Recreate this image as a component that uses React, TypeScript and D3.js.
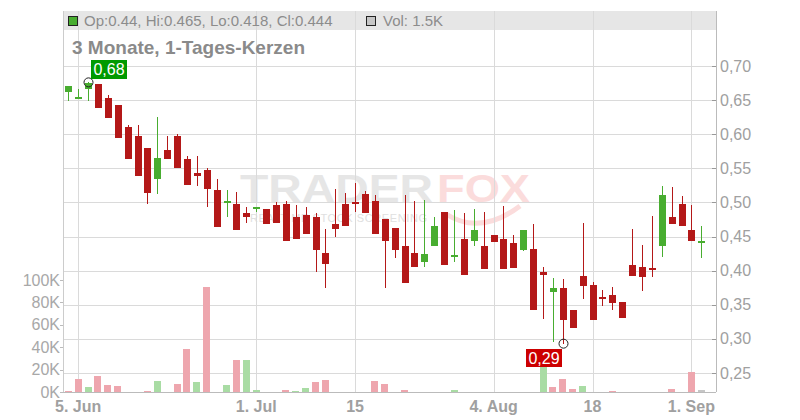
import React from "react";
import * as d3 from "d3";

// Daily candles (trading-day index 0..64, 4 Jun – 2 Sep)
const opens = [0.662,0.653,0.667,0.674,0.653,0.643,0.610,0.598,0.580,0.534,0.577,0.5975,0.564,0.543,0.548,0.5185,0.500,0.498,0.485,0.492,0.4906,0.4965,0.498,0.478,0.4818,0.478,0.4262,0.4687,0.498,0.5009,0.5126,0.5023,0.476,0.4628,0.4365,0.4262,0.412,0.4355,0.4853,0.4214,0.4467,0.4442,0.4365,0.4526,0.4467,0.4409,0.4296,0.432,0.398,0.368,0.375,0.3427,0.3926,0.3794,0.3618,0.3647,0.3545,0.4086,0.4057,0.4042,0.4355,0.4789,0.498,0.4599,0.440];
const highs = [0.671,0.667,0.676,0.674,0.658,0.643,0.614,0.614,0.580,0.625,0.5975,0.600,0.568,0.568,0.551,0.5346,0.5185,0.5156,0.4937,0.493,0.4906,0.5013,0.5023,0.4965,0.4937,0.4849,0.4604,0.5196,0.514,0.5282,0.5175,0.5116,0.476,0.4628,0.5111,0.5023,0.5038,0.4789,0.4867,0.4892,0.4838,0.4906,0.4867,0.4526,0.495,0.4526,0.4599,0.4687,0.4053,0.3896,0.3882,0.3427,0.4706,0.3838,0.372,0.3764,0.3545,0.4604,0.4379,0.4804,0.5243,0.5228,0.5097,0.4965,0.465];
const lows = [0.648,0.653,0.649,0.639,0.624,0.594,0.564,0.539,0.4975,0.513,0.564,0.550,0.525,0.524,0.494,0.4633,0.479,0.459,0.4706,0.4853,0.469,0.4706,0.4428,0.447,0.4531,0.3974,0.3742,0.4487,0.4648,0.4867,0.4838,0.4531,0.3745,0.4179,0.3813,0.4047,0.4047,0.4355,0.4076,0.412,0.393,0.4355,0.4018,0.4413,0.4018,0.4032,0.4282,0.3417,0.3286,0.2949,0.293,0.3154,0.3578,0.3271,0.3476,0.3417,0.330,0.3915,0.3696,0.390,0.4194,0.4677,0.4648,0.444,0.418];
const closes = [0.671,0.654,0.675,0.639,0.624,0.594,0.564,0.539,0.5145,0.565,0.564,0.550,0.525,0.539,0.5195,0.4633,0.501,0.459,0.478,0.4926,0.469,0.4706,0.4428,0.447,0.4531,0.4296,0.4091,0.4618,0.4648,0.498,0.4838,0.4531,0.4428,0.431,0.3813,0.4047,0.4247,0.4657,0.4076,0.4214,0.393,0.4599,0.4018,0.4413,0.4018,0.4032,0.4599,0.3417,0.393,0.375,0.3271,0.3154,0.3769,0.3271,0.3593,0.352,0.330,0.3915,0.390,0.4018,0.5111,0.4677,0.4648,0.444,0.444];
// Volume in thousands
const volumesK = [1,11.6,4.5,14.3,6.3,5.4,0,0,1,9.8,0,7.1,38.4,8.9,93.8,0,6.3,28.6,28.6,1.8,0,0,1.8,1,3.6,8.9,10.7,0,0,0,0,9.8,7.1,0,1.8,0,0,0,0,1.8,0,0,0,0,0,0,0,0,23,4.5,11.6,2.7,5.4,0,0,1,0,0,0,0,0,2.7,0,17.9,1.5];

const xTickIdx = [1, 19, 29, 43, 53, 63];
const xTickLabels = ["5. Jun", "1. Jul", "15", "4. Aug", "18", "1. Sep"];
const priceTicks = [0.25, 0.30, 0.35, 0.40, 0.45, 0.50, 0.55, 0.60, 0.65, 0.70];
const volTicks = [0, 20, 40, 60, 80, 100];

const FONT = "'Liberation Sans', Arial, sans-serif";
const RED = "#b41818";
const GREEN = "#48ad30";
const VRED = "#eea6ae";
const VGREEN = "#a9dca4";
const VGRAY = "#c6c6c6";
const GRID = "#dadada";

export default function App() {
  const left = 63, right = 716, bottom = 392, top = 11;
  const x = d3.scaleLinear().domain([0, 64]).range([68.3, 701.3]);
  const y = d3.scaleLinear().domain([0.25, 0.7]).range([373, 66]);
  const yv = d3.scaleLinear().domain([0, 100]).range([392, 280]);
  const fmt = (v: number) => d3.format(".2f")(v).replace(".", ",");
  const bw = 7;

  const hiIdx = d3.maxIndex(highs);
  const loIdx = d3.minIndex(lows);

  return (
    <div style={{ position: "fixed", left: 0, top: 0 }}>
      <svg width={800} height={420} style={{ display: "block", fontFamily: FONT }}>
        <rect x={0} y={0} width={800} height={420} fill="#fff" />
        {/* watermark */}
        <g>
          <text x={240} y={202} fontSize={38} fontWeight="bold" fill="#e6e6e6" textLength={193} lengthAdjust="spacingAndGlyphs">TRADER</text>
          <text x={437} y={202} fontSize={38} fontWeight="bold" fill="#fbdcdc" textLength={93} lengthAdjust="spacingAndGlyphs">FOX</text>
          <text x={250} y={222} fontSize={11} fill="#e0e0e0" textLength={177} lengthAdjust="spacing">REALTIME STOCK SCREENING</text>
          <path d="M446,214 Q480,236 520,206" fill="none" stroke="#fbdcdc" strokeWidth={5} />
        </g>
        {/* header band */}
        <rect x={left} y={top} width={right - left} height={19} fill="#e3e3e3" opacity={0.9} />
        {/* gridlines */}
        <g shapeRendering="crispEdges">
          {priceTicks.map((t) => (
            <line key={"h" + t} x1={left} x2={right - 4} y1={Math.round(y(t)) + 0.5} y2={Math.round(y(t)) + 0.5} stroke={GRID} />
          ))}
          {xTickIdx.map((i) => (
            <line key={"v" + i} x1={Math.round(x(i)) + 0.5} x2={Math.round(x(i)) + 0.5} y1={top} y2={bottom} stroke={GRID} />
          ))}
          <line x1={left + 0.5} x2={left + 0.5} y1={top} y2={bottom} stroke="#cccccc" />
          <line x1={right + 0.5} x2={right + 0.5} y1={top} y2={bottom} stroke="#bbbbbb" />
          <line x1={left} x2={right} y1={bottom + 0.5} y2={bottom + 0.5} stroke="#bbbbbb" />
          {priceTicks.map((t) => (
            <line key={"pt" + t} x1={right - 4} x2={right} y1={Math.round(y(t)) + 0.5} y2={Math.round(y(t)) + 0.5} stroke="#999" />
          ))}
          {volTicks.map((t) => (
            <line key={"vt" + t} x1={left - 3} x2={left} y1={Math.round(yv(t)) + 0.5} y2={Math.round(yv(t)) + 0.5} stroke="#bbb" />
          ))}
        </g>
        {/* volume bars */}
        <g shapeRendering="crispEdges">
          {volumesK.map((v, i) => {
            if (v <= 0) return null;
            const prev = i > 0 ? closes[i - 1] : Infinity;
            const c = closes[i] > prev ? VGREEN : closes[i] < prev ? VRED : VGRAY;
            return <rect key={"vb" + i} x={Math.round(x(i) - bw / 2)} width={bw} y={yv(v)} height={yv(0) - yv(v)} fill={c} />;
          })}
        </g>
        {/* candles */}
        <g shapeRendering="crispEdges">
          {opens.map((o, i) => {
            const c = closes[i];
            const up = c >= o;
            const col = up ? GREEN : RED;
            const cx = Math.round(x(i));
            const yt = y(Math.max(o, c));
            const yb = y(Math.min(o, c));
            const h = Math.max(2, yb - yt);
            return (
              <g key={"c" + i}>
                <line x1={cx + 0.5} x2={cx + 0.5} y1={y(highs[i])} y2={y(lows[i])} stroke={col} strokeWidth={1.2} />
                <rect x={cx - 3} width={bw} y={h === 2 ? (yt + yb) / 2 - 1 : yt} height={h} fill={col} />
              </g>
            );
          })}
        </g>
        {/* high / low markers */}
        <circle cx={Math.round(x(hiIdx)) + 0.5} cy={y(highs[hiIdx])} r={4.5} fill="none" stroke="#222" strokeWidth={1} />
        <rect x={91} y={60} width={36} height={19} fill="#009a00" />
        <text x={109} y={75} fontSize={16} fill="#fff" textAnchor="middle">{fmt(highs[hiIdx])}</text>
        <circle cx={Math.round(x(loIdx)) + 0.5} cy={y(lows[loIdx])} r={4.5} fill="none" stroke="#222" strokeWidth={1} />
        <rect x={526} y={349} width={36} height={18} fill="#cc0000" />
        <text x={544} y={364} fontSize={16} fill="#fff" textAnchor="middle">{fmt(lows[loIdx])}</text>
        {/* price axis labels */}
        {priceTicks.map((t) => (
          <text key={"pl" + t} x={720} y={y(t) + 5.5} fontSize={16} fill="#a0a0a0">{fmt(t)}</text>
        ))}
        {/* volume axis labels */}
        {volTicks.map((t) => (
          <text key={"vl" + t} x={60} y={yv(t) + 5.5} fontSize={16} fill="#a8a8a8" textAnchor="end">{t + "K"}</text>
        ))}
        {/* x labels */}
        {xTickIdx.map((i, k) => (
          <text key={"xl" + i} x={x(i)} y={412} fontSize={16} fontWeight="bold" fill="#a0a0a0" textAnchor="middle">{xTickLabels[k]}</text>
        ))}
        {/* legend */}
        <rect x={68.5} y={16.5} width={9} height={9} fill="#48ad30" stroke="#222" />
        <text x={84} y={26} fontSize={15} fill="#8c8c8c">
          {`Op:${opens[64]}, Hi:${highs[64]}, Lo:${lows[64]}, Cl:${closes[64]}`}
        </text>
        <rect x={366.5} y={16.5} width={9} height={9} fill="#c6c6c6" stroke="#222" />
        <text x={383} y={26} fontSize={15} fill="#8c8c8c">{`Vol: ${volumesK[64]}K`}</text>
        {/* title */}
        <text x={72} y={53.5} fontSize={19} fontWeight="bold" fill="#8a8a8a">3 Monate, 1-Tages-Kerzen</text>
      </svg>
    </div>
  );
}
